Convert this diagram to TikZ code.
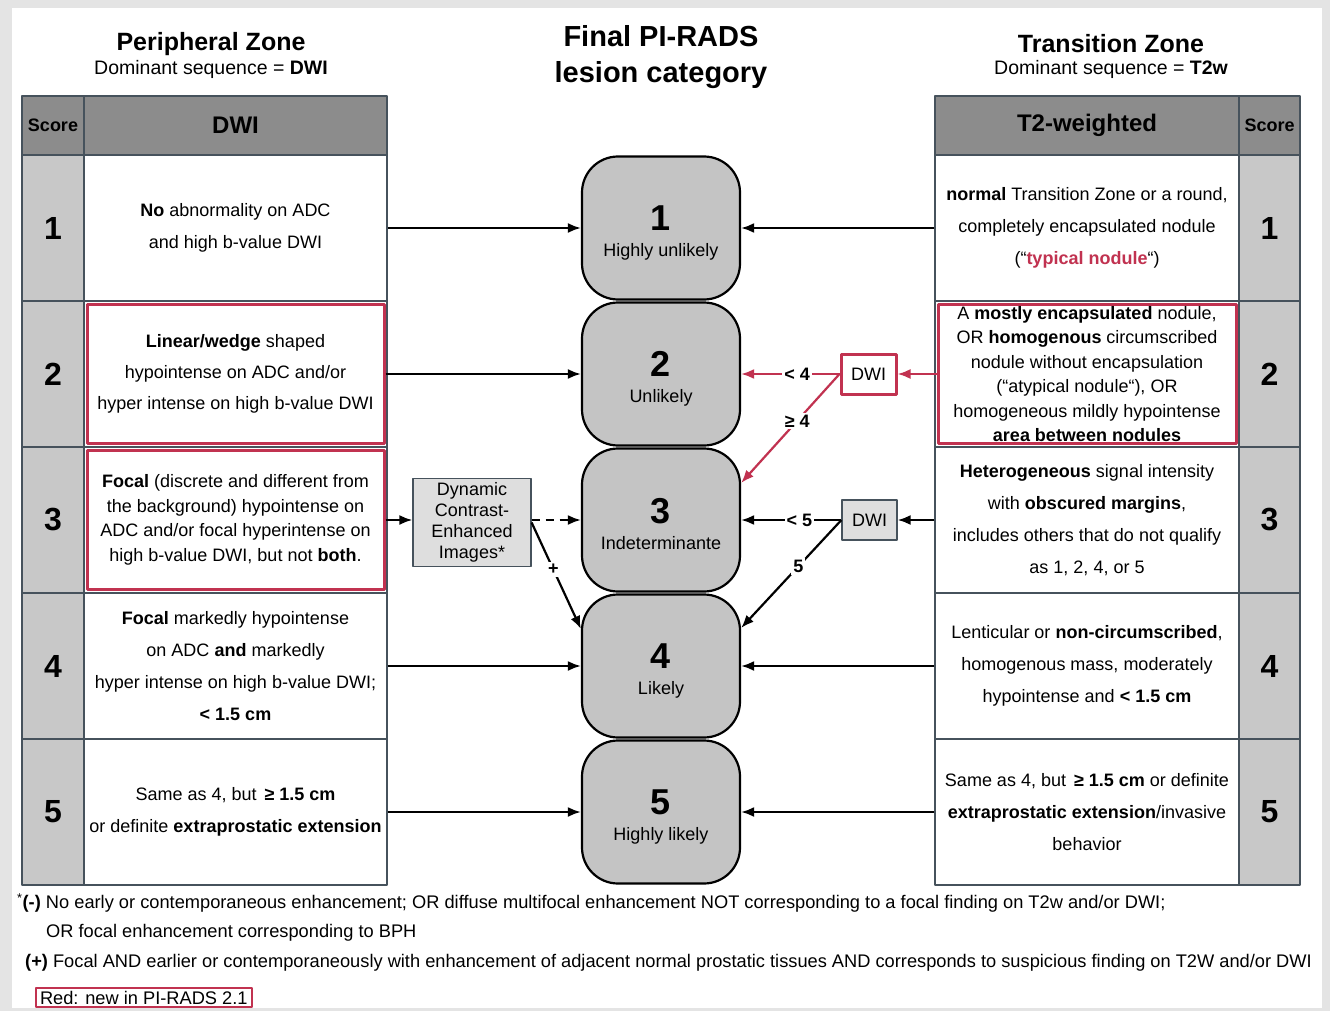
\documentclass[tikz,border=0pt]{standalone}
\usepackage{fontspec}
\setmainfont{Liberation Sans}
\usetikzlibrary{arrows.meta,positioning,calc}
\definecolor{pired}{RGB}{193,50,80}
\definecolor{hdrgray}{RGB}{140,140,140}
\definecolor{scoregray}{RGB}{200,200,200}
\definecolor{catgray}{RGB}{196,196,196}
\definecolor{dcegray}{RGB}{222,222,222}
\definecolor{gridc}{RGB}{70,82,92}
\definecolor{pagegray}{RGB}{228,228,228}
\newcommand{\bodyfont}{\fontsize{18}{32}\selectfont}
\newcommand{\tightfont}{\fontsize{18}{24.5}\selectfont}
\newcommand{\catnum}[1]{{\fontsize{36}{36}\selectfont\bfseries\rule{0pt}{34pt}#1}\\[4pt]}

\begin{document}
\begin{tikzpicture}[x=1pt,y=-1pt,>={Latex[length=13pt,width=10pt]},node distance=146pt,on grid,line join=round]
\tikzset{cell/.style={draw=gridc,line width=1.2pt,fill=white,minimum width=303pt,minimum height=146pt,inner sep=0pt,align=center,font=\bodyfont}}
\tikzset{score/.style={draw=gridc,line width=1.2pt,fill=scoregray,minimum width=62pt,minimum height=146pt,inner sep=0pt,font=\fontsize{32}{32}\selectfont\bfseries}}
\tikzset{head/.style={draw=gridc,line width=1.2pt,fill=hdrgray,minimum height=59pt,inner sep=0pt,font=\fontsize{24}{24}\selectfont\bfseries}}
\tikzset{cat/.style={draw=black,line width=2.2pt,fill=catgray,rounded corners=36pt,minimum width=158pt,minimum height=143pt,inner sep=0pt,align=center,font=\fontsize{18}{22}\selectfont}}
\tikzset{newin/.style={draw=pired,line width=3pt,minimum width=297pt,minimum height=139pt,inner sep=0pt,align=center}}
\tikzset{dwi/.style={draw=gridc,line width=1.2pt,fill=dcegray,minimum width=55pt,minimum height=40pt,inner sep=0pt,font=\fontsize{18}{18}\selectfont}}
\tikzset{lbl/.style={fill=white,inner sep=2pt,text=black,font=\fontsize{18}{18}\selectfont\bfseries}}
\tikzset{link/.style={->,line width=2.2pt}}
\tikzset{foot/.style={anchor=west,inner sep=0pt,font=\fontsize{18.25}{18}\selectfont}}
\useasboundingbox (0,0) rectangle (1330,1011);
\fill[pagegray] (0,0) rectangle (1330,1011);
\fill[white] (12,8) rectangle (1322,1008);

% titles
\node[font=\fontsize{25}{25}\selectfont\bfseries] (pz) at (211,44) {Peripheral Zone};
\node[font=\fontsize{19.5}{20}\selectfont] (pzs) [below=25pt of pz] {Dominant sequence = \textbf{DWI}};
\node[font=\fontsize{29}{36}\selectfont\bfseries,align=center] (ttl) at (661,57) {Final PI-RADS\\lesion category};
\node[font=\fontsize{25}{25}\selectfont\bfseries] (tz) at (1111,44) {Transition Zone};
\node[font=\fontsize{19.5}{20}\selectfont] (tzs) [below=25pt of tz] {Dominant sequence = \textbf{T2w}};

% peripheral zone table
\node[head,minimum width=62pt,font=\fontsize{18}{18}\selectfont\bfseries] (lsh) at (53,125.5) {Score};
\node[head,minimum width=303pt] (lh) at (235.5,125.5) {DWI};
\node[score] (ls1) at (53,228) {1};
\node[score] (ls2) [below=of ls1] {2};
\node[score] (ls3) [below=of ls2] {3};
\node[score] (ls4) [below=of ls3] {4};
\node[score] (ls5) [below=of ls4] {5};
\node[cell] (l1) at (235.5,228) {\textbf{No} abnormality on ADC\\and high b-value DWI};
\node[cell] (l2) [below=of l1] {};
\node[newin,font=\fontsize{18}{31}\selectfont] (l2n) at (l2) {\textbf{Linear/wedge} shaped\\hypointense on ADC and/or\\hyper intense on high b-value DWI};
\node[cell] (l3) [below=of l2] {};
\node[newin,font=\tightfont] (l3n) at (l3) {\textbf{Focal} (discrete and different from\\the background) hypointense on\\ADC and/or focal hyperintense on\\high b-value DWI, but not \textbf{both}.};
\node[cell] (l4) [below=of l3] {\textbf{Focal} markedly hypointense\\on ADC \textbf{and} markedly\\hyper intense on high b-value DWI;\\\textbf{< 1.5 cm}};
\node[cell] (l5) [below=of l4] {Same as 4, but \,\textbf{≥ 1.5 cm}\\or definite \textbf{extraprostatic extension}};

% final category
\node[cat] (c1) at (661,228) {\catnum{1}Highly unlikely};
\node[cat] (c2) [below=of c1] {\catnum{2}Unlikely};
\node[cat] (c3) [below=of c2] {\catnum{3}Indeterminante};
\node[cat] (c4) [below=of c3] {\catnum{4}Likely};
\node[cat] (c5) [below=of c4] {\catnum{5}Highly likely};

% transition zone table
\node[head,minimum width=304pt] (rh) at (1087,125.5) {T2-weighted};
\node[head,minimum width=61pt,font=\fontsize{18}{18}\selectfont\bfseries] (rsh) at (1269.5,125.5) {Score};
\node[score,minimum width=61pt] (rs1) at (1269.5,228) {1};
\node[score,minimum width=61pt] (rs2) [below=of rs1] {2};
\node[score,minimum width=61pt] (rs3) [below=of rs2] {3};
\node[score,minimum width=61pt] (rs4) [below=of rs3] {4};
\node[score,minimum width=61pt] (rs5) [below=of rs4] {5};
\node[cell,minimum width=304pt] (r1) at (1087,228) {\textbf{normal} Transition Zone or a round,\\completely encapsulated nodule\\(“\textcolor{pired}{\textbf{typical nodule}}“)};
\node[cell,minimum width=304pt] (r2) [below=of r1] {};
\node[newin,minimum width=298pt,font=\tightfont] (r2n) at (r2) {A \textbf{mostly encapsulated} nodule,\\OR \textbf{homogenous} circumscribed\\nodule without encapsulation\\(“atypical nodule“), OR\\homogeneous mildly hypointense\\\textbf{area between nodules}};
\node[cell,minimum width=304pt] (r3) [below=of r2] {\textbf{Heterogeneous} signal intensity\\with \textbf{obscured margins},\\includes others that do not qualify\\as 1, 2, 4, or 5};
\node[cell,minimum width=304pt] (r4) [below=of r3] {Lenticular or \textbf{non-circumscribed},\\homogenous mass, moderately\\hypointense and \textbf{< 1.5 cm}};
\node[cell,minimum width=304pt] (r5) [below=of r4] {Same as 4, but \,\textbf{≥ 1.5 cm} or definite\\\textbf{extraprostatic extension}/invasive\\behavior};

% side boxes
\node[dwi,minimum width=118pt,minimum height=88pt,align=center,font=\fontsize{18}{21}\selectfont] (dce) at (472,522.5) {Dynamic\\Contrast-\\Enhanced\\Images*};
\node[dwi,draw=pired,line width=3pt,fill=white] (dwi2) at (868.5,374) {DWI};
\node[dwi] (dwi3) at (869.5,520) {DWI};

\path
      (l1)    edge [link]    (c1)
      (l2n)   edge [link]    (c2)
      (l4)    edge [link]    (c4)
      (l5)    edge [link]    (c5)
      (r1)    edge [link]    (c1)
      (r4)    edge [link]    (c4)
      (r5)    edge [link]    (c5)
      (r2n)   edge [link,pired]  (dwi2)
      (dwi2)  edge [link,pired]  node[lbl,pos=.43] {< 4} (c2)
      (r3)    edge [link]    (dwi3)
      (dwi3)  edge [link]    node[lbl,pos=.42] {< 5} (c3);
\draw[link] (l3n.east) -- (l3n.east -| dce.west);
\draw[link,dash pattern=on 8pt off 6pt] (dce.east |- c3.west) -- (c3.west);
\draw[link] (dce.east) -- node[lbl,pos=.44] {+} ($(c4.west)+(0,-37)$);
\draw[link,pired] (dwi2.west) -- node[lbl,pos=.43] {≥ 4} ($(c3.east)+(0,-37)$);
\draw[link] (dwi3.west) -- node[lbl,pos=.43] {5} ($(c4.east)+(0,-38)$);

% footnotes
\node[foot] (f1) at (17,903) {\textsuperscript{*}\textbf{(-)} No early or contemporaneous enhancement; OR diffuse multifocal enhancement NOT corresponding to a focal finding on T2w and/or DWI;};
\node[foot] (f2) at (46,933) {OR focal enhancement corresponding to BPH};
\node[foot] (f3) at (25,963) {\textbf{(+)} Focal AND earlier or contemporaneously with enhancement of adjacent normal prostatic tissues AND corresponds to suspicious finding on T2W and/or DWI};
\node[foot,draw=pired,line width=2pt,inner xsep=4pt,minimum height=19pt] (leg) at (35,997.5) {Red: new in PI-RADS 2.1};
\end{tikzpicture}
\end{document}
